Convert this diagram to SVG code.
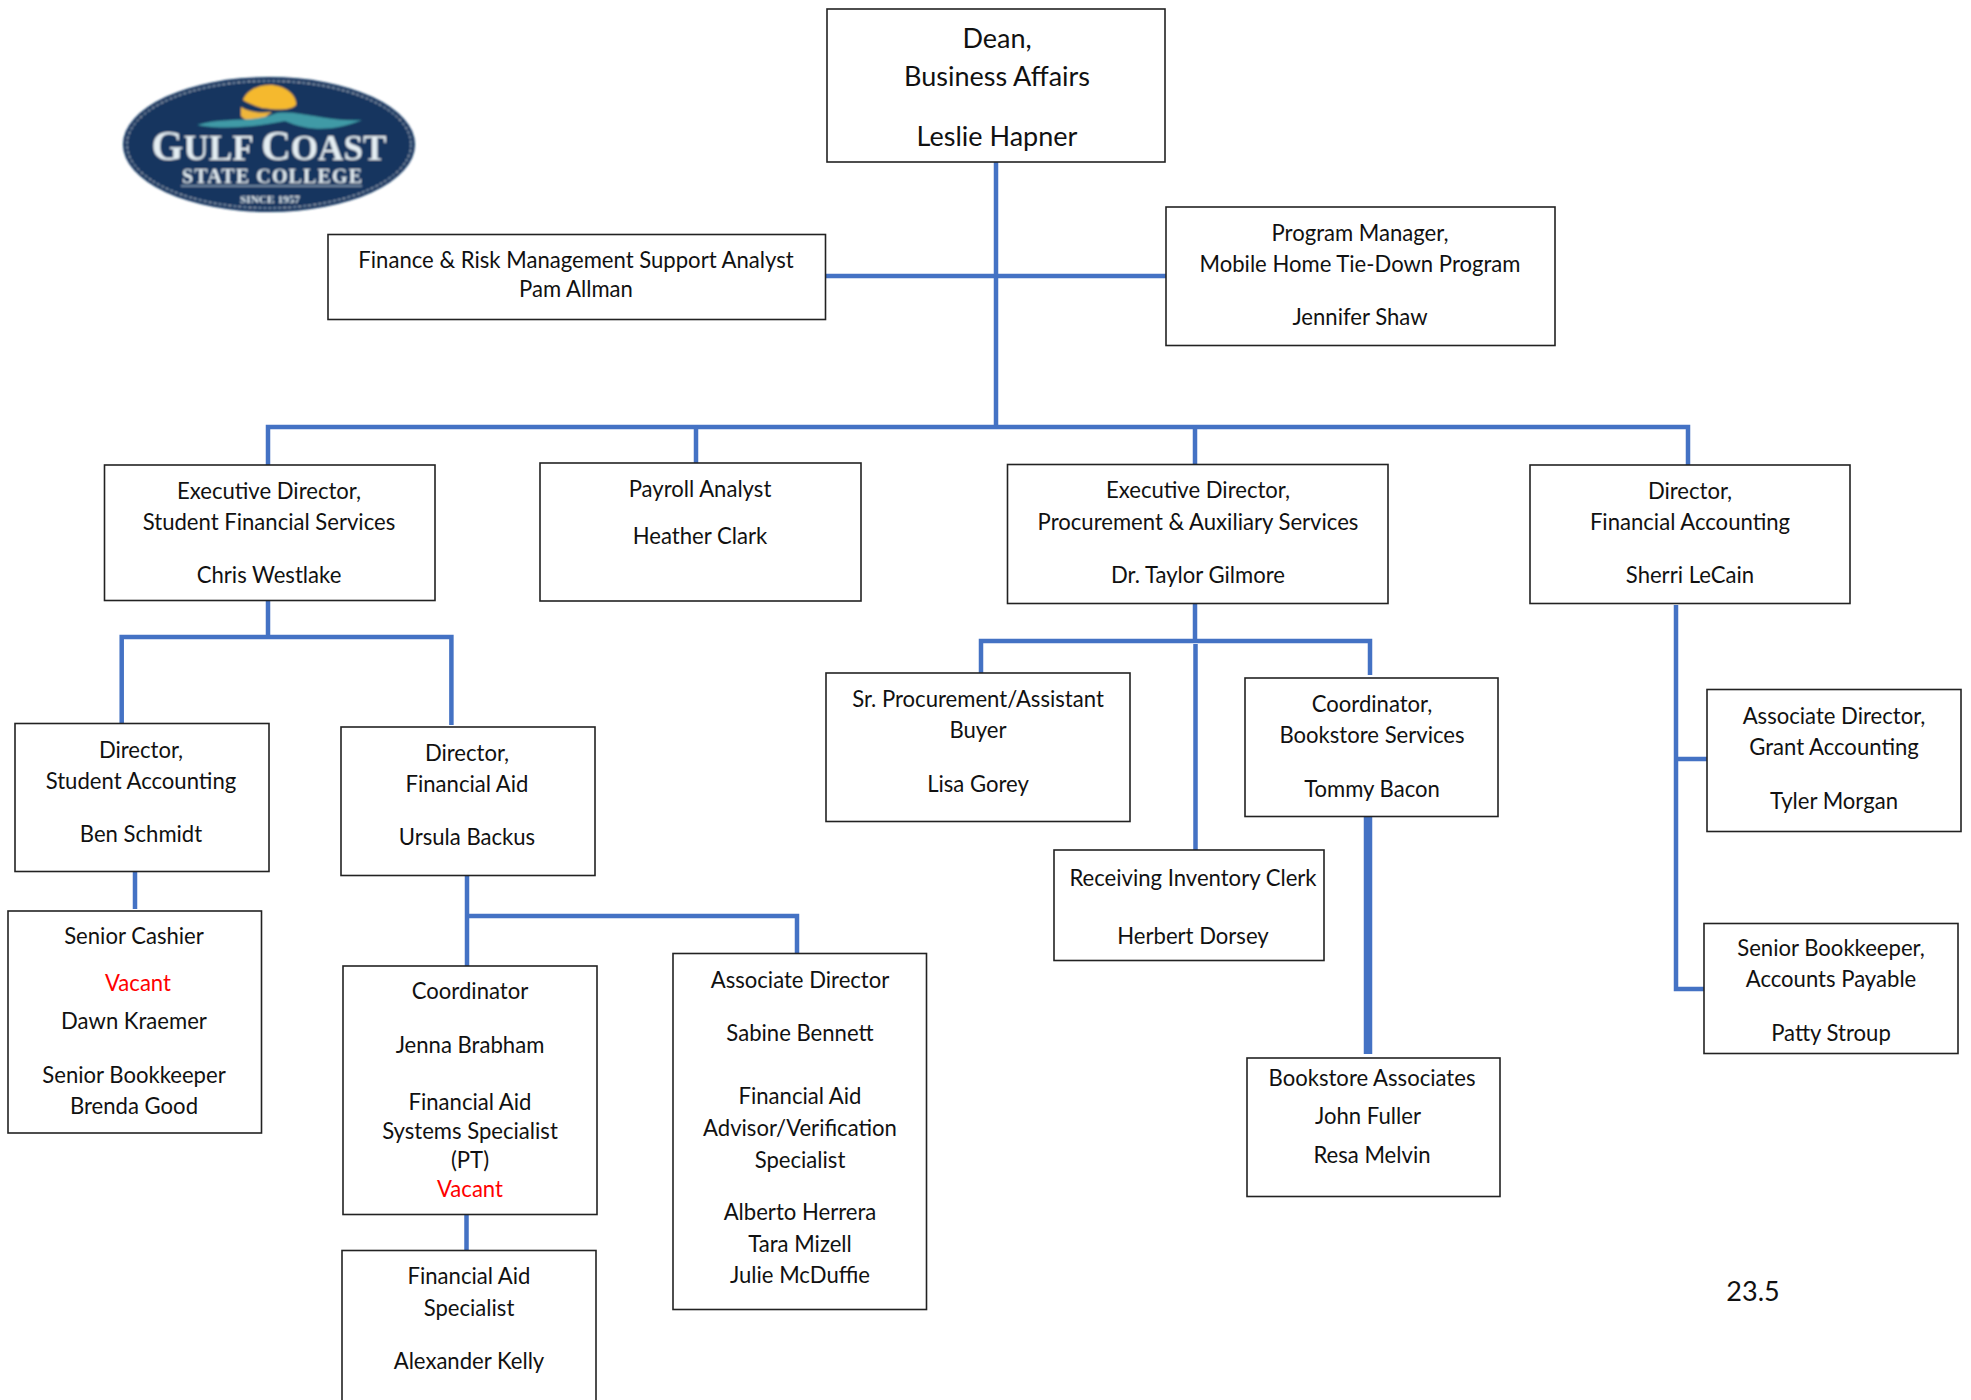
<svg xmlns="http://www.w3.org/2000/svg" width="1971" height="1400" viewBox="0 0 1971 1400">
<style>
rect.b{fill:#fff;stroke:#222;stroke-width:1.6}
text{font-family:"Lato","Carlito","Noto Sans",sans-serif;font-size:22.1px;fill:#111;text-anchor:middle}
text.l{font-size:27px}
text.r{fill:#f00}
.c path{fill:none;stroke:#4472c4;stroke-width:4.5}
.c path.t{stroke-width:8.5}
.logo text{font-family:"Liberation Serif",serif;fill:#e4edf2;font-weight:bold}
.logo text.g{font-size:36px}
.logo tspan.k{font-size:42px}
.logo text.s{font-size:20px}
.logo text.y{font-size:9.500px}
</style>
<defs><filter id="soft" x="-5%" y="-5%" width="110%" height="110%"><feGaussianBlur stdDeviation="0.8"/></filter></defs>
<rect width="1971" height="1400" fill="#fff"/>
<g id="connectors" class="c">
<path d="M996 162V428M826 276H1166M268 465V427H1688V465M696 427V464M1195 427V465"/>
<path d="M268 601V637M121.700 725V637H451.400V725M135 872V909"/>
<path d="M467 876V966M467 916H797V954M466.500 1215V1251"/>
<path d="M1195 604V641M981 674V641H1370V675M1195.500 644V851"/>
<path class="t" d="M1368 817V1054"/>
<path d="M1676 605V989H1704M1676 759H1707"/>
</g>
<g id="logo" class="logo" filter="url(#soft)">
<ellipse cx="269" cy="144.500" rx="146" ry="67.500" fill="#13365f"/>
<ellipse cx="269" cy="144.500" rx="142" ry="63.500" fill="none" stroke="#c9d6e2" stroke-width="1" stroke-dasharray="3 2"/>
<path d="M243 100C247 90 258 85 270 85C286 85 297 96 296 105C290 111 275 110 262 108C255 106 248 103 243 100Z" fill="#f5b92f"/>
<path d="M241 107C250 113 262 113 272 112C266 116 262 119 270 121C258 124 246 122 241 116Z" fill="#efb63a"/>
<path d="M197 125C225 116 250 124 277 113C300 110 325 122 362 120C335 131 310 132 285 121C255 127 225 130 197 125Z" fill="#3f9aa6"/>
<text class="g" x="269" y="160" textLength="235" lengthAdjust="spacingAndGlyphs"><tspan class="k">G</tspan>ULF <tspan class="k">C</tspan>OAST</text>
<text class="s" x="272" y="183" textLength="180" lengthAdjust="spacing">STATE COLLEGE</text>
<path d="M181 186H362" stroke="#c9d6e2" stroke-width="1"/>
<text class="y" x="270" y="203" textLength="60" lengthAdjust="spacingAndGlyphs">SINCE 1957</text>
</g>
<g id="dean"><rect class="b" x="827" y="9" width="338" height="153"/><text class="l" x="997" y="48">Dean,</text><text class="l" x="997" y="86">Business Affairs</text><text class="l" x="997" y="146">Leslie Hapner</text></g>
<g id="finance"><rect class="b" x="328" y="234.500" width="497.500" height="85"/><text x="576" y="268">Finance &amp; Risk Management Support Analyst</text><text x="576" y="297">Pam Allman</text></g>
<g id="program"><rect class="b" x="1166" y="207" width="389" height="138.500"/><text x="1360" y="241">Program Manager,</text><text x="1360" y="272">Mobile Home Tie-Down Program</text><text x="1360" y="325">Jennifer Shaw</text></g>
<g id="exec-sfs"><rect class="b" x="104.500" y="465" width="330.500" height="135.500"/><text x="269" y="499">Executive Director,</text><text x="269" y="530">Student Financial Services</text><text x="269" y="583">Chris Westlake</text></g>
<g id="payroll"><rect class="b" x="540" y="463" width="321" height="138"/><text x="700" y="497">Payroll Analyst</text><text x="700" y="544">Heather Clark</text></g>
<g id="exec-proc"><rect class="b" x="1007.500" y="464.500" width="380.500" height="139"/><text x="1198" y="498">Executive Director,</text><text x="1198" y="530">Procurement &amp; Auxiliary Services</text><text x="1198" y="583">Dr. Taylor Gilmore</text></g>
<g id="dir-fin-acct"><rect class="b" x="1530" y="465" width="320" height="138.500"/><text x="1690" y="499">Director,</text><text x="1690" y="530">Financial Accounting</text><text x="1690" y="583">Sherri LeCain</text></g>
<g id="dir-sa"><rect class="b" x="15" y="723.500" width="254" height="148"/><text x="141" y="758">Director,</text><text x="141" y="789">Student Accounting</text><text x="141" y="842">Ben Schmidt</text></g>
<g id="dir-fa"><rect class="b" x="341" y="727" width="254" height="148.500"/><text x="467" y="761">Director,</text><text x="467" y="792">Financial Aid</text><text x="467" y="845">Ursula Backus</text></g>
<g id="cashier"><rect class="b" x="8" y="911" width="253.500" height="222"/><text x="134" y="944">Senior Cashier</text><text class="r" x="138" y="991">Vacant</text><text x="134" y="1029">Dawn Kraemer</text><text x="134" y="1083">Senior Bookkeeper</text><text x="134" y="1114">Brenda Good</text></g>
<g id="coordinator"><rect class="b" x="343" y="966" width="254" height="248.500"/><text x="470" y="999">Coordinator</text><text x="470" y="1053">Jenna Brabham</text><text x="470" y="1110">Financial Aid</text><text x="470" y="1139">Systems Specialist</text><text x="470" y="1168">(PT)</text><text class="r" x="470" y="1197">Vacant</text></g>
<g id="fa-specialist"><rect class="b" x="342" y="1250.500" width="254" height="160"/><text x="469" y="1284">Financial Aid</text><text x="469" y="1316">Specialist</text><text x="469" y="1369">Alexander Kelly</text></g>
<g id="assoc-dir"><rect class="b" x="673" y="953.500" width="253.500" height="356"/><text x="800" y="988">Associate Director</text><text x="800" y="1041">Sabine Bennett</text><text x="800" y="1104">Financial Aid</text><text x="800" y="1136">Advisor/Verification</text><text x="800" y="1168">Specialist</text><text x="800" y="1220">Alberto Herrera</text><text x="800" y="1252">Tara Mizell</text><text x="800" y="1283">Julie McDuffie</text></g>
<g id="sr-proc"><rect class="b" x="826" y="673" width="304" height="148.500"/><text x="978" y="707">Sr. Procurement/Assistant</text><text x="978" y="738">Buyer</text><text x="978" y="792">Lisa Gorey</text></g>
<g id="receiving"><rect class="b" x="1054" y="850" width="270" height="110.500"/><text x="1193" y="886">Receiving Inventory Clerk</text><text x="1193" y="944">Herbert Dorsey</text></g>
<g id="coord-book"><rect class="b" x="1245" y="678" width="253" height="138.500"/><text x="1372" y="712">Coordinator,</text><text x="1372" y="743">Bookstore Services</text><text x="1372" y="797">Tommy Bacon</text></g>
<g id="book-assoc"><rect class="b" x="1247" y="1058" width="253" height="138.500"/><text x="1372" y="1086">Bookstore Associates</text><text x="1368" y="1124">John Fuller</text><text x="1372" y="1163">Resa Melvin</text></g>
<g id="assoc-grant"><rect class="b" x="1707" y="689.500" width="254" height="142"/><text x="1834" y="724">Associate Director,</text><text x="1834" y="755">Grant Accounting</text><text x="1834" y="809">Tyler Morgan</text></g>
<g id="sr-book"><rect class="b" x="1704" y="923.500" width="254" height="130"/><text x="1831" y="956">Senior Bookkeeper,</text><text x="1831" y="987">Accounts Payable</text><text x="1831" y="1041">Patty Stroup</text></g>
<text class="l" x="1753" y="1301">23.5</text>
</svg>
